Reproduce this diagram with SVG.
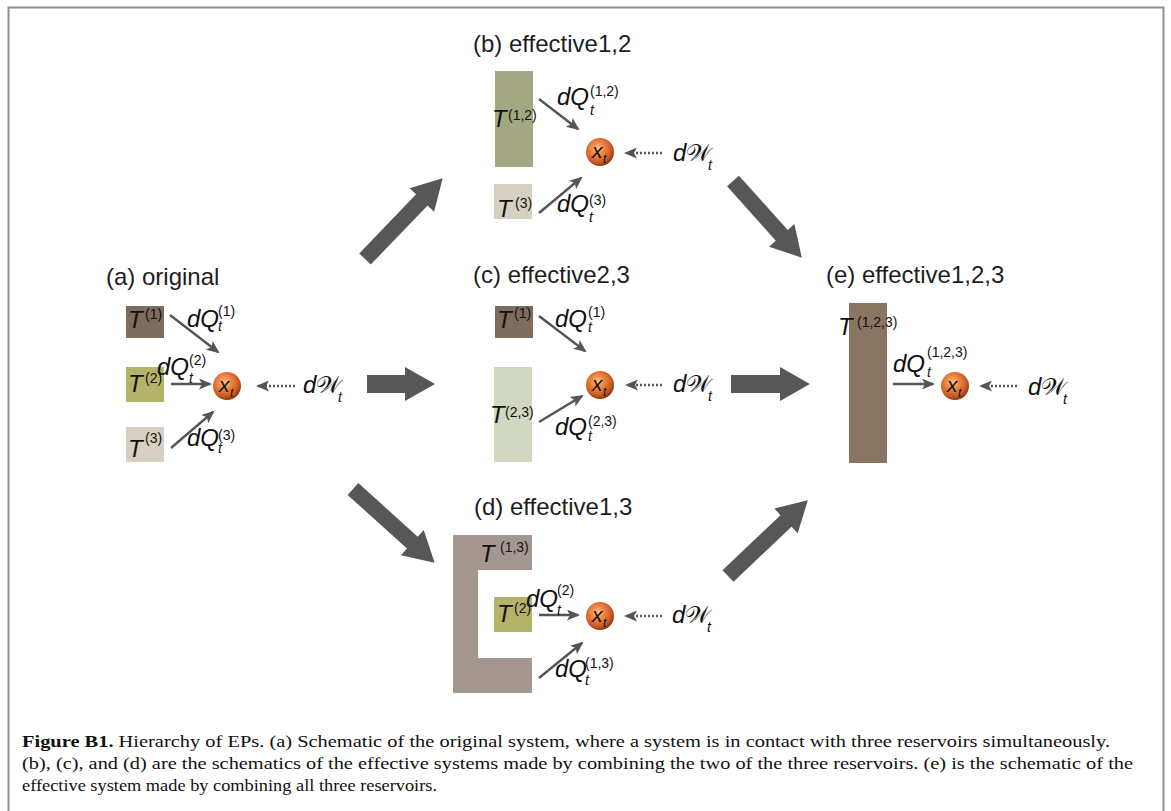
<svg xmlns="http://www.w3.org/2000/svg" width="1171" height="811" viewBox="0 0 1171 811">
<style>
.ttl{font-family:"Liberation Sans",Arial,sans-serif;font-size:24px;fill:#1e1e1e}
.m{font-family:"Liberation Sans",Arial,sans-serif;font-style:italic;font-size:24px;fill:#111}
.sp{font-family:"Liberation Sans",Arial,sans-serif;font-size:14px;fill:#111}
.sb{font-family:"Liberation Sans",Arial,sans-serif;font-style:italic;font-size:14px;fill:#111}
.xl{font-family:"Liberation Sans",Arial,sans-serif;font-style:italic;font-size:21px;fill:#111}
.xs{font-family:"Liberation Sans",Arial,sans-serif;font-style:italic;font-size:12px;fill:#111}
.w{font-family:"DejaVu Sans","Noto Sans",serif;font-style:normal}
.arr{stroke:#555;stroke-width:2.4;fill:none;marker-end:url(#ah)}
.dot{stroke:#555;stroke-width:2.4;stroke-dasharray:2 2;fill:none;marker-end:url(#ah)}
.big{fill:#575757}
.ball{fill:url(#ball)}
.cap{font-family:"Liberation Serif","Times New Roman",serif;font-size:17px;fill:#111}
.capb{font-weight:bold}
.r1{fill:#7e6c5e}.r2{fill:#b3b46a}.r3{fill:#d6cfc2}.r12{fill:#a3a883}.r23{fill:#d2d7c2}.r13{fill:#a39790}.r123{fill:#8a7562}
</style>
<defs>
<marker id="ah" viewBox="0 0 13 11" refX="11" refY="5.5" markerWidth="13" markerHeight="11" markerUnits="userSpaceOnUse" orient="auto">
<path d="M0,0 L13,5.5 L0,11 L3,5.5 Z" fill="#555"/>
</marker>
<radialGradient id="ball" cx="42%" cy="38%" r="62%">
<stop offset="0" stop-color="#fcc58c"/>
<stop offset="0.35" stop-color="#ef8c46"/>
<stop offset="0.78" stop-color="#cc5a22"/>
<stop offset="1" stop-color="#8e3a14"/>
</radialGradient>
</defs>
<rect width="1171" height="811" fill="#fff"/>
<path d="M8.5,811 V7.5 H1163.5 V811" fill="none" stroke="#8f8f8f" stroke-width="2"/>

<g id="panel-a">
<text class="ttl" x="106" y="285">(a) original</text>
<rect class="r1" x="126" y="306" width="38" height="32"/>
<rect class="r2" x="126" y="367" width="38" height="35"/>
<rect class="r3" x="126" y="427" width="38" height="35"/>
<text class="m" x="128" y="328">T</text><text class="sp" x="145" y="319">(1)</text>
<text class="m" x="128" y="392">T</text><text class="sp" x="145" y="383">(2)</text>
<text class="m" x="128" y="457">T</text><text class="sp" x="145" y="443">(3)</text>
<line class="arr" x1="170" y1="315" x2="218" y2="352"/>
<line class="arr" x1="171" y1="384" x2="210" y2="384"/>
<line class="arr" x1="171" y1="448" x2="213" y2="412"/>
<text class="m" x="187" y="327">dQ</text><text class="sp" x="218" y="316">(1)</text><text class="sb" x="218" y="331">t</text>
<text class="m" x="157" y="375">dQ</text><text class="sp" x="189" y="365">(2)</text><text class="sb" x="189" y="383">t</text>
<text class="m" x="187" y="446">dQ</text><text class="sp" x="218" y="440">(3)</text><text class="sb" x="218" y="453">t</text>
<circle class="ball" cx="227" cy="386" r="14"/>
<text class="xl" x="219" y="392">x</text><text class="xs" x="230" y="397">t</text>
<line class="dot" x1="295" y1="386" x2="258" y2="386"/>
<text class="m" x="303" y="393">d<tspan class="w">𝒲</tspan></text><text class="sb" x="338" y="402">t</text>
</g>

<g id="panel-b">
<text class="ttl" x="473" y="52">(b) effective1,2</text>
<rect class="r12" x="495" y="71" width="38" height="96"/>
<rect class="r3" x="494" y="184" width="38" height="35"/>
<text class="m" x="492" y="127">T</text><text class="sp" x="508" y="120">(1,2)</text>
<text class="m" x="497" y="217">T</text><text class="sp" x="515" y="208">(3)</text>
<line class="arr" x1="539" y1="99" x2="578" y2="129"/>
<line class="arr" x1="539" y1="213" x2="581" y2="178"/>
<text class="m" x="557" y="105">dQ</text><text class="sp" x="590" y="96">(1,2)</text><text class="sb" x="590" y="115">t</text>
<text class="m" x="557" y="212">dQ</text><text class="sp" x="589" y="205">(3)</text><text class="sb" x="589" y="222">t</text>
<circle class="ball" cx="600" cy="152" r="14"/>
<text class="xl" x="592" y="158">x</text><text class="xs" x="603" y="163">t</text>
<line class="dot" x1="662" y1="153" x2="626" y2="153"/>
<text class="m" x="673" y="161">d<tspan class="w">𝒲</tspan></text><text class="sb" x="708" y="170">t</text>
</g>

<g id="panel-c">
<text class="ttl" x="473" y="283">(c) effective2,3</text>
<rect class="r1" x="495" y="306" width="38" height="32"/>
<rect class="r23" x="494" y="367" width="38" height="95"/>
<text class="m" x="497" y="328">T</text><text class="sp" x="514" y="318">(1)</text>
<text class="m" x="490" y="423">T</text><text class="sp" x="505" y="417">(2,3)</text>
<line class="arr" x1="539" y1="316" x2="585" y2="351"/>
<line class="arr" x1="539" y1="422" x2="582" y2="396"/>
<text class="m" x="555" y="327">dQ</text><text class="sp" x="588" y="317">(1)</text><text class="sb" x="588" y="332">t</text>
<text class="m" x="555" y="435">dQ</text><text class="sp" x="588" y="426">(2,3)</text><text class="sb" x="588" y="441">t</text>
<circle class="ball" cx="600" cy="385" r="14"/>
<text class="xl" x="592" y="391">x</text><text class="xs" x="603" y="396">t</text>
<line class="dot" x1="662" y1="385" x2="627" y2="385"/>
<text class="m" x="673" y="392">d<tspan class="w">𝒲</tspan></text><text class="sb" x="708" y="401">t</text>
</g>

<g id="panel-d">
<text class="ttl" x="474" y="515">(d) effective1,3</text>
<path class="r13" d="M453,535 H532 V570 H478 V658 H532 V693 H453 Z"/>
<text class="m" x="480" y="562">T</text><text class="sp" x="500" y="552">(1,3)</text>
<rect class="r2" x="494" y="597" width="38" height="35"/>
<text class="m" x="497" y="622">T</text><text class="sp" x="514" y="613">(2)</text>
<line class="arr" x1="539" y1="615" x2="578" y2="615"/>
<line class="arr" x1="539" y1="678" x2="582" y2="643"/>
<text class="m" x="526" y="607">dQ</text><text class="sp" x="557" y="595">(2)</text><text class="sb" x="557" y="615">t</text>
<text class="m" x="555" y="677">dQ</text><text class="sp" x="585" y="668">(1,3)</text><text class="sb" x="585" y="685">t</text>
<circle class="ball" cx="600" cy="616" r="14"/>
<text class="xl" x="592" y="622">x</text><text class="xs" x="603" y="627">t</text>
<line class="dot" x1="662" y1="616" x2="626" y2="616"/>
<text class="m" x="672" y="623">d<tspan class="w">𝒲</tspan></text><text class="sb" x="707" y="632">t</text>
</g>

<g id="panel-e">
<text class="ttl" x="826" y="283">(e) effective1,2,3</text>
<rect class="r123" x="849" y="303" width="38" height="160"/>
<text class="m" x="838" y="335">T</text><text class="sp" x="857" y="327">(1,2,3)</text>
<line class="arr" x1="893" y1="384" x2="933" y2="384"/>
<text class="m" x="893" y="372">dQ</text><text class="sp" x="927" y="357">(1,2,3)</text><text class="sb" x="927" y="377">t</text>
<circle class="ball" cx="955" cy="386" r="14"/>
<text class="xl" x="947" y="392">x</text><text class="xs" x="958" y="397">t</text>
<line class="dot" x1="1017" y1="386" x2="981" y2="386"/>
<text class="m" x="1028" y="395">d<tspan class="w">𝒲</tspan></text><text class="sb" x="1063" y="404">t</text>
</g>

<g id="connectors">
<polygon class="big" transform="translate(365,259) rotate(-46.1)" points="0,-8 82,-8 82,-17 112,0 82,17 82,8 0,8"/>
<polygon class="big" transform="translate(367,384)" points="0,-9 38,-9 38,-17 68,0 38,17 38,9 0,9"/>
<polygon class="big" transform="translate(353,489) rotate(42.1)" points="0,-8 80,-8 80,-17 110,0 80,17 80,8 0,8"/>
<polygon class="big" transform="translate(733,181) rotate(48.1)" points="0,-8 73,-8 73,-17 103,0 73,17 73,8 0,8"/>
<polygon class="big" transform="translate(731,384)" points="0,-9 49,-9 49,-17 79,0 49,17 49,9 0,9"/>
<polygon class="big" transform="translate(728,576) rotate(-43.5)" points="0,-8 80,-8 80,-17 110,0 80,17 80,8 0,8"/>
</g>

<g id="caption">
<text class="cap" x="22" y="747" textLength="1088" lengthAdjust="spacingAndGlyphs"><tspan class="capb">Figure B1.</tspan> Hierarchy of EPs. (a) Schematic of the original system, where a system is in contact with three reservoirs simultaneously.</text>
<text class="cap" x="22" y="769" textLength="1111" lengthAdjust="spacingAndGlyphs">(b), (c), and (d) are the schematics of the effective systems made by combining the two of the three reservoirs. (e) is the schematic of the</text>
<text class="cap" x="22" y="791" textLength="415" lengthAdjust="spacingAndGlyphs">effective system made by combining all three reservoirs.</text>
</g>
</svg>
